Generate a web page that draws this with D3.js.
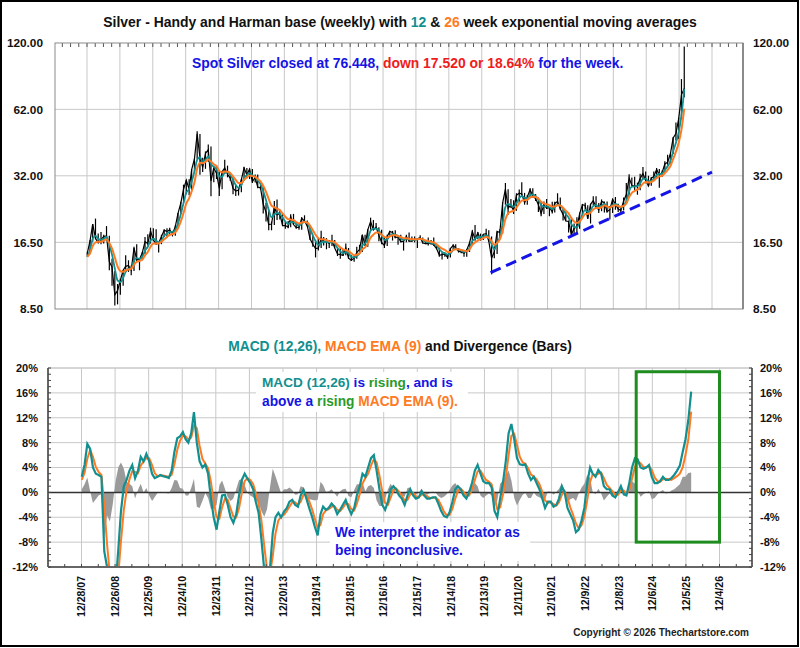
<!DOCTYPE html>
<html>
<head>
<meta charset="utf-8">
<script src="https://cdn.jsdelivr.net/npm/d3@7"></script>
<style>
  body { margin: 0; background: #fff; }
  svg { display: block; font-family: "Liberation Sans", Arial, sans-serif; font-weight: bold; }
  text { white-space: pre; }
</style>
</head>
<body>
<svg id="chart" width="800" height="648"></svg>
<script>
// x-axis tick labels (52 weeks apart)
const tickLabels = ["12/28/07", "12/26/08", "12/25/09", "12/24/10", "12/23/11", "12/21/12", "12/20/13",
  "12/19/14", "12/18/15", "12/16/16", "12/15/17", "12/14/18", "12/13/19", "12/11/20", "12/10/21",
  "12/9/22", "12/8/23", "12/6/24", "12/5/25", "12/4/26"];

const priceTicks = [8.5, 16.5, 32, 62, 120];
const macdTicks = [-12, -8, -4, 0, 4, 8, 12, 16, 20];

// month-end values, Dec 2007 .. Jan 2026
const closes = [14.8,
  16.8, 19.8, 17.2, 16.4, 16.9, 17.5, 17.6, 13.6, 12.9, 9.8, 10.2, 11.3,
  12.5, 13.0, 13.1, 12.5, 15.6, 13.9, 13.9, 14.9, 16.6, 16.3, 18.5, 16.9,
  16.2, 16.4, 17.5, 18.6, 18.4, 18.7, 18.0, 19.3, 22.0, 24.4, 28.0, 30.6,
  28.0, 34.0, 37.9, 48.6, 38.3, 34.8, 40.0, 41.5, 30.4, 34.6, 32.8, 28.2,
  33.3, 34.6, 32.5, 31.3, 28.2, 27.5, 27.8, 30.8, 34.6, 32.3, 34.2, 30.2,
  31.5, 28.6, 28.4, 24.1, 22.3, 19.7, 19.8, 23.6, 21.7, 21.9, 19.5, 19.5,
  19.2, 21.3, 19.7, 19.1, 19.2, 21.0, 20.4, 19.4, 17.1, 16.2, 15.5, 15.6,
  17.2, 16.6, 16.6, 16.3, 16.8, 15.6, 14.7, 14.6, 14.5, 15.6, 14.1, 13.8,
  14.1, 14.9, 15.4, 17.8, 16.0, 18.7, 20.3, 18.7, 19.2, 17.7, 16.5, 16.0,
  17.5, 18.4, 18.2, 17.3, 17.4, 16.6, 16.7, 17.5, 16.7, 16.7, 17.0, 17.1,
  17.3, 16.4, 16.3, 16.3, 16.4, 16.1, 15.5, 14.5, 14.6, 14.7, 14.2, 15.5,
  16.0, 15.6, 15.1, 15.0, 14.8, 15.3, 16.4, 18.4, 17.0, 18.1, 17.0, 17.9,
  18.0, 16.7, 14.1, 15.0, 18.4, 18.2, 24.4, 28.0, 23.2, 23.9, 22.6, 26.4,
  26.9, 26.7, 24.5, 25.9, 27.9, 26.1, 25.5, 24.0, 22.0, 24.0, 23.2, 23.3,
  22.4, 24.3, 24.8, 23.0, 21.8, 20.4, 20.3, 17.8, 19.0, 19.2, 21.9, 24.0,
  23.8, 20.9, 24.1, 25.0, 23.5, 22.8, 24.8, 24.5, 22.4, 22.9, 25.3, 24.1,
  23.0, 22.7, 24.9, 26.6, 31.3, 29.1, 28.9, 28.9, 31.2, 32.7, 30.6, 28.9,
  31.2, 31.8, 34.1, 32.3, 33.0, 36.0, 36.6, 39.9, 46.6, 48.7, 56.4, 71.6,
  76.4];

const highs = [14.9,
  16.9, 19.8, 20.9, 18.0, 18.3, 17.8, 19.4, 17.6, 14.0, 12.4, 10.9, 11.5,
  12.5, 14.5, 13.8, 13.1, 15.8, 16.2, 14.0, 15.0, 17.4, 17.9, 19.1, 19.0,
  18.8, 16.5, 17.8, 18.8, 19.0, 19.1, 18.5, 19.5, 22.1, 24.7, 29.3, 30.8,
  30.9, 34.1, 38.0, 49.8, 48.5, 38.3, 40.8, 43.7, 42.8, 35.4, 35.6, 33.3,
  33.6, 37.5, 35.4, 33.0, 31.3, 29.3, 28.4, 31.0, 34.9, 34.6, 34.4, 34.2,
  32.4, 32.4, 29.3, 28.6, 24.5, 22.6, 20.3, 24.9, 25.3, 22.9, 22.0, 20.3,
  20.4, 21.8, 21.9, 20.2, 19.7, 21.2, 21.6, 20.5, 19.6, 17.6, 16.8, 17.3,
  18.5, 17.4, 17.2, 16.9, 17.8, 16.9, 15.7, 15.7, 15.3, 16.3, 15.6, 14.5,
  14.5, 15.8, 16.1, 17.8, 17.8, 18.8, 21.1, 20.6, 20.0, 19.2, 18.7, 17.3,
  17.8, 18.5, 18.5, 18.6, 17.7, 17.8, 16.8, 17.8, 18.2, 17.5, 17.5, 17.1,
  17.7, 17.3, 16.8, 17.3, 16.9, 17.3, 16.2, 15.6, 14.9, 14.9, 14.7, 15.6,
  16.2, 16.2, 15.6, 15.3, 15.0, 15.4, 16.6, 18.6, 19.6, 18.3, 18.0, 17.9,
  18.9, 18.6, 17.5, 15.8, 18.4, 18.8, 24.6, 29.8, 28.0, 25.4, 25.1, 26.9,
  27.9, 30.0, 27.0, 26.4, 28.3, 28.3, 26.7, 25.8, 24.8, 24.8, 25.4, 23.4,
  24.7, 24.7, 26.9, 25.8, 22.9, 22.5, 20.5, 20.9, 19.9, 21.2, 22.2, 24.2,
  24.5, 23.9, 24.2, 26.1, 26.1, 24.4, 25.3, 24.8, 24.8, 23.7, 25.5, 25.9,
  24.2, 23.3, 25.8, 29.8, 32.5, 31.5, 31.7, 29.9, 32.7, 34.9, 33.4, 32.0,
  31.6, 33.4, 34.6, 34.2, 33.7, 37.0, 39.5, 40.0, 47.0, 54.4, 57.0, 83.8,
  116.0];

const lows = [14.3,
  14.8, 16.6, 17.0, 16.4, 16.2, 16.3, 17.0, 12.5, 10.7, 8.8, 8.9, 9.8,
  10.7, 12.3, 12.3, 11.9, 12.4, 13.7, 12.5, 13.8, 14.7, 16.0, 16.3, 16.8,
  16.3, 14.9, 16.2, 17.4, 17.3, 17.9, 17.5, 17.6, 19.3, 22.0, 24.4, 26.6,
  26.4, 27.5, 33.2, 37.6, 32.3, 33.2, 34.3, 36.8, 26.1, 30.0, 31.0, 26.2,
  28.0, 32.6, 31.5, 30.5, 26.6, 26.2, 26.3, 27.2, 30.5, 31.2, 31.0, 29.8,
  29.9, 28.3, 27.9, 22.0, 20.3, 18.6, 18.6, 19.6, 20.6, 20.7, 19.4, 18.9,
  19.0, 19.2, 19.7, 18.9, 18.7, 18.7, 20.4, 19.3, 16.9, 15.8, 14.2, 15.2,
  15.6, 16.0, 15.4, 15.6, 15.9, 15.6, 14.4, 14.0, 14.4, 14.5, 14.0, 13.7,
  13.6, 14.0, 14.8, 15.0, 15.9, 15.8, 18.7, 18.6, 18.8, 16.7, 16.2, 15.6,
  15.9, 17.4, 16.8, 17.2, 16.1, 16.5, 15.2, 16.5, 16.6, 16.6, 16.5, 15.6,
  16.9, 16.3, 16.2, 16.0, 16.1, 15.9, 15.4, 14.3, 13.9, 14.3, 14.0, 14.2,
  15.4, 15.6, 14.9, 14.8, 14.3, 14.3, 15.0, 16.2, 16.8, 17.0, 16.8, 16.9,
  17.4, 16.6, 12.0, 14.1, 14.7, 17.2, 18.0, 24.0, 21.7, 23.2, 21.9, 22.6,
  24.2, 25.9, 24.0, 24.0, 25.6, 25.8, 24.9, 22.3, 21.4, 21.9, 23.0, 21.4,
  22.0, 22.2, 24.0, 22.8, 20.5, 20.4, 18.2, 17.6, 17.6, 18.1, 18.9, 21.8,
  23.0, 20.8, 19.9, 23.9, 23.2, 22.1, 22.5, 22.2, 22.2, 20.7, 22.1, 22.8,
  22.3, 22.2, 22.7, 25.0, 26.0, 28.8, 27.6, 26.5, 27.7, 31.0, 29.7, 28.8,
  29.0, 31.0, 31.0, 28.4, 31.6, 32.9, 35.7, 36.2, 39.8, 45.5, 46.0, 56.5,
  70.0];

const ema12 = [14.3,
  15.3, 17.1, 17.6, 17.1, 16.9, 17.1, 17.4, 16.1, 14.6, 12.7, 11.3, 11.1,
  11.6, 12.3, 12.7, 12.7, 13.7, 14.1, 14.0, 14.3, 15.2, 15.8, 16.8, 17.1,
  16.8, 16.5, 16.8, 17.6, 18.0, 18.3, 18.3, 18.6, 19.9, 21.8, 24.4, 27.1,
  28.0, 30.1, 33.4, 37.5, 38.5, 36.8, 37.5, 38.8, 36.0, 35.0, 34.2, 31.9,
  31.7, 33.0, 33.1, 32.4, 30.8, 29.2, 28.4, 29.1, 31.3, 32.2, 32.9, 32.2,
  31.6, 30.6, 29.5, 27.5, 25.1, 22.8, 21.2, 21.8, 22.1, 21.9, 21.1, 20.3,
  19.8, 20.2, 20.2, 19.8, 19.5, 19.9, 20.3, 20.0, 18.9, 17.7, 16.7, 16.1,
  16.4, 16.6, 16.6, 16.5, 16.6, 16.3, 15.6, 15.1, 14.8, 15.0, 14.8, 14.3,
  14.2, 14.4, 14.8, 16.0, 16.3, 17.1, 18.5, 18.9, 18.9, 18.6, 17.7, 16.9,
  17.0, 17.6, 17.9, 17.8, 17.6, 17.2, 16.9, 17.1, 17.0, 16.9, 16.9, 17.0,
  17.1, 16.9, 16.6, 16.5, 16.4, 16.3, 16.0, 15.4, 15.0, 14.8, 14.6, 14.8,
  15.3, 15.5, 15.4, 15.2, 15.0, 15.1, 15.6, 16.7, 17.1, 17.4, 17.4, 17.5,
  17.7, 17.4, 16.2, 15.4, 16.4, 17.3, 19.9, 23.5, 24.2, 23.9, 23.5, 24.3,
  25.6, 26.2, 25.7, 25.6, 26.4, 26.6, 26.1, 25.3, 23.9, 23.6, 23.6, 23.4,
  23.0, 23.4, 24.0, 23.8, 23.0, 21.9, 21.1, 19.8, 19.2, 19.2, 20.1, 21.8,
  22.8, 22.3, 22.7, 23.7, 23.9, 23.4, 23.8, 24.2, 23.6, 23.2, 23.9, 24.2,
  23.8, 23.3, 23.7, 24.9, 27.4, 28.7, 28.8, 28.9, 29.7, 31.0, 31.1, 30.3,
  30.4, 31.0, 32.2, 32.6, 32.7, 33.9, 35.2, 37.0, 40.8, 44.5, 49.3, 58.2,
  76.0];

const ema26 = [14.3,
  14.8, 15.9, 16.5, 16.6, 16.6, 16.8, 17.0, 16.4, 15.5, 14.2, 13.0, 12.4,
  12.3, 12.5, 12.6, 12.7, 13.2, 13.6, 13.7, 13.9, 14.5, 15.0, 15.8, 16.3,
  16.3, 16.3, 16.6, 17.0, 17.4, 17.8, 17.9, 18.2, 19.0, 20.3, 22.1, 24.3,
  25.6, 27.4, 30.0, 34.3, 36.4, 36.3, 36.8, 37.6, 36.9, 35.9, 35.2, 33.6,
  33.1, 33.4, 33.3, 32.9, 31.8, 30.7, 29.8, 29.8, 30.8, 31.5, 32.1, 31.9,
  31.7, 31.1, 30.3, 29.0, 27.3, 25.4, 23.8, 23.4, 23.1, 22.7, 22.0, 21.3,
  20.8, 20.7, 20.6, 20.2, 19.9, 20.1, 20.2, 20.1, 19.5, 18.6, 17.8, 17.2,
  17.0, 17.0, 16.9, 16.7, 16.7, 16.5, 16.1, 15.7, 15.4, 15.3, 15.1, 14.8,
  14.5, 14.6, 14.8, 15.4, 15.7, 16.3, 17.3, 17.8, 18.2, 18.2, 17.8, 17.4,
  17.3, 17.5, 17.7, 17.7, 17.6, 17.4, 17.2, 17.2, 17.1, 17.0, 17.0, 17.0,
  17.1, 17.0, 16.8, 16.7, 16.6, 16.5, 16.2, 15.8, 15.5, 15.3, 15.0, 15.0,
  15.3, 15.4, 15.4, 15.3, 15.2, 15.1, 15.4, 16.1, 16.5, 16.8, 17.0, 17.2,
  17.4, 17.3, 16.7, 16.1, 16.4, 17.0, 18.5, 20.8, 22.0, 22.4, 22.6, 23.3,
  24.3, 25.0, 25.1, 25.2, 25.8, 26.0, 25.9, 25.5, 24.7, 24.3, 24.1, 23.9,
  23.5, 23.6, 23.9, 23.8, 23.3, 22.6, 22.0, 21.0, 20.3, 20.0, 20.3, 21.1,
  21.9, 21.9, 22.2, 22.9, 23.2, 23.2, 23.4, 23.8, 23.6, 23.3, 23.7, 23.9,
  23.7, 23.5, 23.7, 24.3, 25.9, 27.0, 27.5, 27.9, 28.6, 29.6, 30.1, 29.9,
  30.1, 30.5, 31.3, 31.8, 32.0, 32.9, 33.9, 35.3, 37.8, 40.7, 44.4, 50.7,
  62.5];

// MACD (12,26) in %, its 9-week EMA and the divergence
const macd = [2.5,
  4.5, 7.8, 7.0, 4.0, 3.0, 2.8, 2.5, -9.5, -12.0, -18.0, -19.0, -15.0,
  -9.0, -3.0, 1.0, 2.0, 3.5, 4.4, 2.3, 3.5, 5.7, 5.0, 6.2, 5.0,
  3.0, 2.3, 2.5, 2.8, 2.6, 2.5, 2.3, 3.5, 6.5, 8.7, 9.0, 9.7,
  8.5, 8.0, 9.5, 12.9, 8.0, 5.0, 4.0, 4.5, 3.0, -1.0, -4.0, -6.0,
  -3.0, -0.5, -0.4, -2.0, -4.0, -4.9, -3.5, -0.5, 2.0, 3.0, 2.2, 1.5,
  0.5, -1.5, -3.3, -7.5, -12.5, -15.0, -12.5, -6.5, -4.0, -3.3, -4.0, -3.1,
  -2.5, -1.5, -1.2, -2.0, -2.3, -0.5, 0.4, -1.0, -2.5, -3.9, -5.5, -6.9,
  -3.5, -2.3, -2.8, -2.5, -1.8, -2.3, -3.5, -2.8, -2.0, -1.2, -2.5, -3.5,
  -2.5, -0.5, 1.0, 3.0, 2.5, 4.0, 5.5, 6.0, 3.5, 0.5, -2.0, -2.8,
  -1.5, 0.5, 1.0, 0.5, -0.5, -1.0, -2.0, -0.5, 0.5, -0.5, -1.0, -0.8,
  0.2, -0.5, -1.0, -1.0, -0.8, -0.8, -1.8, -3.0, -3.8, -4.0, -3.2, -1.5,
  0.5, 1.0, 0.5, -0.5, -1.0, 0.0, 1.5, 3.5, 4.4, 3.0, 1.8, 1.5,
  1.5, 0.8, -3.0, -4.0, -1.0, 1.5, 5.0, 9.5, 11.0, 8.5, 5.5, 4.5,
  4.4, 4.5, 3.0, 2.0, 2.5, 1.5, 0.5, -1.0, -2.5, -1.5, -1.5, -2.3,
  -2.0, -1.0, 1.0, 0.0, -2.5, -3.5, -4.5, -6.4, -6.0, -4.5, -2.5, 1.5,
  4.0, 3.0, 2.5, 3.6, 3.0, 1.0, 0.5, 0.5, -0.5, -0.8, 0.0, 1.0,
  -0.3, -0.5, 1.5, 4.0, 5.5, 5.3, 4.0, 3.8, 4.0, 4.4, 2.5, 1.5,
  1.5, 1.8, 2.5, 2.0, 2.0, 2.3, 2.8, 3.5, 4.3, 6.5, 8.5, 11.6,
  16.2];

const signal = [2.0,
  3.2, 5.4, 6.8, 5.7, 4.1, 3.3, 2.8, -2.2, -8.3, -13.3, -17.0, -16.8,
  -13.1, -7.8, -2.8, 0.3, 2.1, 3.4, 3.3, 3.1, 4.3, 5.0, 5.5, 5.5,
  4.4, 3.1, 2.6, 2.7, 2.7, 2.6, 2.5, 2.8, 4.5, 6.8, 8.3, 9.1,
  9.0, 8.5, 8.8, 10.7, 10.3, 7.5, 5.4, 4.6, 3.9, 1.7, -1.4, -4.0,
  -4.2, -2.4, -1.0, -1.2, -2.6, -3.9, -4.0, -2.5, -0.1, 1.8, 2.3, 2.0,
  1.3, -0.1, -1.8, -4.5, -8.6, -12.3, -13.2, -10.3, -6.6, -4.5, -3.9, -3.6,
  -3.0, -2.3, -1.6, -1.6, -2.0, -1.5, -0.4, -0.4, -1.4, -2.7, -4.2, -5.7,
  -5.2, -3.5, -2.9, -2.7, -2.3, -2.2, -2.8, -3.0, -2.5, -1.8, -1.9, -2.7,
  -2.9, -1.8, -0.3, 1.4, 2.3, 3.0, 4.3, 5.3, 4.8, 2.7, 0.2, -1.7,
  -2.0, -0.9, 0.3, 0.6, 0.1, -0.5, -1.3, -1.2, -0.3, -0.1, -0.6, -0.8,
  -0.4, -0.3, -0.6, -0.9, -0.9, -0.8, -1.2, -2.1, -3.1, -3.7, -3.6, -2.6,
  -1.0, 0.2, 0.6, 0.1, -0.5, -0.5, 0.5, 2.0, 3.4, 3.5, 2.7, 2.0,
  1.7, 1.3, -0.6, -2.7, -2.4, -0.4, 2.3, 6.0, 9.1, 9.4, 7.6, 5.7,
  4.8, 4.6, 3.9, 2.9, 2.5, 2.1, 1.3, 0.1, -1.3, -1.7, -1.6, -1.9,
  -2.1, -1.6, -0.4, 0.2, -0.9, -2.4, -3.6, -5.0, -5.8, -5.3, -3.9, -1.3,
  1.7, 2.9, 2.8, 3.0, 3.2, 2.3, 1.2, 0.7, 0.2, -0.4, -0.4, 0.3,
  0.3, -0.2, 0.4, 2.2, 4.1, 5.0, 4.7, 4.1, 4.0, 4.2, 3.6, 2.4,
  1.8, 1.7, 2.1, 2.2, 2.1, 2.0, 2.3, 2.6, 3.0, 4.0, 6.0, 8.5,
  13.0];

const divergence = [0.5,
  1.3, 2.4, 0.2, -1.7, -1.1, -0.5, -0.3, -7.3, -3.7, -4.7, -2.0, 1.8,
  4.1, 4.8, 3.8, 1.7, 1.4, 1.0, -1.0, 0.4, 1.4, 0.0, 0.7, -0.5,
  -1.4, -0.8, -0.1, 0.1, -0.1, -0.1, -0.2, 0.7, 2.0, 1.9, 0.7, 0.6,
  -0.5, -0.5, 0.7, 2.2, -2.3, -2.5, -1.4, -0.1, -0.9, -2.7, -2.6, -2.0,
  1.2, 1.9, 0.6, -0.8, -1.4, -1.0, 0.5, 2.0, 2.1, 1.2, -0.1, -0.5,
  -0.8, -1.4, -1.5, -3.0, -3.9, -2.7, 0.7, 3.8, 2.6, 1.2, -0.1, 0.5,
  0.5, 0.8, 0.4, -0.4, -0.3, 1.0, 0.8, -0.6, -1.1, -1.2, -1.3, -1.2,
  1.7, 1.2, 0.1, 0.2, 0.5, -0.1, -0.7, 0.2, 0.5, 0.6, -0.6, -0.8,
  0.4, 1.3, 1.3, 1.6, 0.2, 1.0, 1.2, 0.7, -1.3, -2.2, -2.2, -1.1,
  0.5, 1.4, 0.7, -0.1, -0.6, -0.5, -0.7, 0.7, 0.8, -0.4, -0.4, 0.0,
  0.6, -0.2, -0.4, -0.1, 0.1, 0.0, -0.6, -0.9, -0.7, -0.3, 0.4, 1.1,
  1.5, 0.8, -0.1, -0.6, -0.5, 0.5, 1.0, 1.5, 1.0, -0.5, -0.9, -0.5,
  -0.2, -0.5, -2.4, -1.3, 1.4, 1.9, 2.7, 3.5, 1.9, -0.9, -2.1, -1.2,
  -0.4, -0.1, -0.9, -0.9, 0.0, -0.6, -0.8, -1.1, -1.2, 0.2, 0.1, -0.4,
  0.1, 0.6, 1.4, -0.2, -1.6, -1.1, -0.9, -1.4, -0.2, 0.8, 1.4, 2.8,
  2.3, 0.1, -0.3, 0.6, -0.2, -1.3, -0.7, -0.2, -0.7, -0.4, 0.4, 0.7,
  -0.6, -0.3, 1.1, 1.8, 1.4, 0.3, -0.7, -0.3, 0.0, 0.2, -1.1, -0.9,
  -0.3, 0.1, 0.4, -0.2, -0.1, 0.3, 0.5, 0.9, 1.3, 2.5, 2.5, 3.1,
  3.2];

// dashed support line and the highlight box
const trendDates = ["3/20/20", "12/4/26"];
const trendValues = [12.2, 33.2];
const boxDates = ["6/14/24", "12/4/26"];
const boxRange = [-8, 19.4];

const teal = "#128f8f", orange = "#ff7a22", blue = "#1414e6", red = "#ee1c1c", green = "#2a9a2a";
const gridColor = "#c8c8c8";

const svg = d3.select("#chart");
const parseDate = d3.timeParse("%m/%d/%y");
const tickDates = tickLabels.map(parseDate);
const monthEnd = i => d3.timeDay.offset(d3.timeMonth.offset(new Date(2008, 0, 1), i), -1);
const dates = closes.map((d, i) => monthEnd(i));

const pTop = { l: 55, r: 743, t: 43, b: 309 };
const pBot = { l: 48, r: 752, t: 368, b: 567 };

const xTop = d3.scaleTime().domain([tickDates[0], tickDates[tickDates.length - 1]]).range([87, 712]);
const xBot = d3.scaleTime().domain(xTop.domain()).range([81.5, 719.5]);
const yPrice = d3.scaleLog().domain([8.5, 120]).range([pTop.b, pTop.t]);
const yMacd = d3.scaleLinear().domain([-12, 20]).range([pBot.b, pBot.t]);

// shrink or grow a text so it spans the width it has in the original
const fit = (text, width) => {
  const w = text.node().getComputedTextLength();
  text.attr("font-size", +text.attr("font-size") * width / w);
  return text;
}

const richText = (g, x, y, size, parts) => {
  const t = g.append("text").attr("x", x).attr("y", y).attr("font-size", size);
  parts.forEach(([s, c]) => t.append("tspan").attr("fill", c).text(s));
  return t;
}

const defs = svg.append("defs");
defs.append("clipPath").attr("id", "clipTop").append("rect")
  .attr("x", pTop.l).attr("y", pTop.t).attr("width", pTop.r - pTop.l).attr("height", pTop.b - pTop.t);
defs.append("clipPath").attr("id", "clipBot").append("rect")
  .attr("x", pBot.l).attr("y", pBot.t).attr("width", pBot.r - pBot.l).attr("height", pBot.b - pBot.t);

svg.append("rect").attr("width", 800).attr("height", 648).attr("fill", "#fff");

// ---------- price panel ----------
fit(richText(svg, 400, 27, 13, [
  ["Silver - Handy and Harman base (weekly) with ", "#111"], ["12", teal], [" & ", "#111"],
  ["26", orange], [" week exponential moving averages", "#111"]
]).attr("text-anchor", "middle"), 594);

const gTop = svg.append("g");

gTop.selectAll(".vgrid").data(tickDates).join("line")
  .attr("x1", d => xTop(d)).attr("x2", d => xTop(d))
  .attr("y1", pTop.t).attr("y2", pTop.b)
  .attr("stroke", gridColor);

gTop.selectAll(".hgrid").data(priceTicks.slice(1, -1)).join("line")
  .attr("x1", pTop.l).attr("x2", pTop.r)
  .attr("y1", d => yPrice(d)).attr("y2", d => yPrice(d))
  .attr("stroke", gridColor);

const quarterTicks = d3.range(-4, 80).map(k => d3.timeDay.offset(tickDates[0], 91 * k))
  .filter(d => xTop(d) > pTop.l && xTop(d) < pTop.r);
gTop.selectAll(".qtick").data(quarterTicks).join("line")
  .attr("x1", d => xTop(d)).attr("x2", d => xTop(d))
  .attr("y1", pTop.t).attr("y2", pTop.t + 4)
  .attr("stroke", "#555");

gTop.append("rect")
  .attr("x", pTop.l).attr("y", pTop.t).attr("width", pTop.r - pTop.l).attr("height", pTop.b - pTop.t)
  .attr("fill", "none").attr("stroke", "#8a8a8a");
gTop.append("line").attr("x1", pTop.r).attr("x2", pTop.r).attr("y1", pTop.t).attr("y2", pTop.b)
  .attr("stroke", "#777").attr("stroke-width", 1.5);

gTop.selectAll(".ylabL").data(priceTicks).join("text")
  .attr("x", 43).attr("y", d => yPrice(d)).attr("dy", "0.36em")
  .attr("text-anchor", "end").attr("font-size", 11.8).attr("fill", "#111")
  .text(d => d.toFixed(2));
gTop.selectAll(".ylabR").data(priceTicks).join("text")
  .attr("x", 753).attr("y", d => yPrice(d)).attr("dy", "0.36em")
  .attr("font-size", 11.8).attr("fill", "#111")
  .text(d => d.toFixed(2));

const gPrice = svg.append("g").attr("clip-path", "url(#clipTop)");

gPrice.selectAll(".bar").data(closes).join("line")
  .attr("x1", (d, i) => xTop(dates[i])).attr("x2", (d, i) => xTop(dates[i]))
  .attr("y1", (d, i) => yPrice(lows[i])).attr("y2", (d, i) => yPrice(highs[i]))
  .attr("stroke", "#000").attr("stroke-width", 1.2);

const priceLine = d3.line().x((d, i) => xTop(dates[i])).y(d => yPrice(d));

gPrice.append("path").attr("d", priceLine(closes))
  .attr("fill", "none").attr("stroke", "#000").attr("stroke-width", 1.2);
gPrice.append("path").attr("d", priceLine.curve(d3.curveMonotoneX)(ema12))
  .attr("fill", "none").attr("stroke", teal).attr("stroke-width", 1.8);
gPrice.append("path").attr("d", priceLine.curve(d3.curveMonotoneX)(ema26))
  .attr("fill", "none").attr("stroke", orange).attr("stroke-width", 2);

svg.append("line")
  .attr("x1", xTop(parseDate(trendDates[0]))).attr("y1", yPrice(trendValues[0]))
  .attr("x2", xTop(parseDate(trendDates[1]))).attr("y2", yPrice(trendValues[1]))
  .attr("stroke", blue).attr("stroke-width", 3).attr("stroke-dasharray", "11,6");

fit(richText(svg, 192, 68, 13.5, [
  ["Spot Silver closed at 76.448, ", blue], ["down 17.520 or 18.64%", red], [" for the week.", blue]
]), 432);

// ---------- MACD panel ----------
fit(richText(svg, 400, 351, 13.5, [
  ["MACD (12,26), ", teal], ["MACD EMA (9)", orange], [" and Divergence (Bars)", "#111"]
]).attr("text-anchor", "middle"), 344);

const gBot = svg.append("g");

gBot.selectAll(".vgrid").data(tickDates).join("line")
  .attr("x1", d => xBot(d)).attr("x2", d => xBot(d))
  .attr("y1", pBot.t).attr("y2", pBot.b)
  .attr("stroke", gridColor);

gBot.selectAll(".hgrid").data(macdTicks.filter(d => d !== 0 && d !== -12)).join("line")
  .attr("x1", pBot.l).attr("x2", pBot.r)
  .attr("y1", d => yMacd(d)).attr("y2", d => yMacd(d))
  .attr("stroke", gridColor);

const gBoxes = svg.append("g");

const gMacd = svg.append("g").attr("clip-path", "url(#clipBot)");

gMacd.append("path")
  .attr("d", d3.area().x((d, i) => xBot(dates[i])).y0(yMacd(0)).y1(d => yMacd(d))(divergence))
  .attr("fill", "#9a9a9a");

gMacd.append("line").attr("x1", pBot.l).attr("x2", pBot.r)
  .attr("y1", yMacd(0)).attr("y2", yMacd(0))
  .attr("stroke", "#333").attr("stroke-width", 1.5);

const macdLine = d3.line().x((d, i) => xBot(dates[i])).y(d => yMacd(d));
gMacd.append("path").attr("d", macdLine(signal))
  .attr("fill", "none").attr("stroke", orange).attr("stroke-width", 2);
gMacd.append("path").attr("d", macdLine(macd))
  .attr("fill", "none").attr("stroke", teal).attr("stroke-width", 2.2);

// frame and minor ticks
gBot.append("line").attr("x1", pBot.l).attr("x2", pBot.r).attr("y1", pBot.t).attr("y2", pBot.t)
  .attr("stroke", gridColor);
[pBot.l, pBot.r].forEach(x => {
  svg.append("line").attr("x1", x).attr("x2", x).attr("y1", pBot.t).attr("y2", pBot.b)
    .attr("stroke", "#666").attr("stroke-width", 2);
});
svg.append("line").attr("x1", pBot.l).attr("x2", pBot.r).attr("y1", pBot.b).attr("y2", pBot.b)
  .attr("stroke", "#666").attr("stroke-width", 2);

const minorY = d3.range(-12, 21);
svg.selectAll(".ytickL").data(minorY).join("line")
  .attr("x1", pBot.l).attr("x2", pBot.l + 3)
  .attr("y1", d => yMacd(d)).attr("y2", d => yMacd(d))
  .attr("stroke", "#444");
svg.selectAll(".ytickR").data(minorY).join("line")
  .attr("x1", pBot.r - 3).attr("x2", pBot.r)
  .attr("y1", d => yMacd(d)).attr("y2", d => yMacd(d))
  .attr("stroke", "#444");

const halfTicks = d3.range(-4, 40).map(k => d3.timeDay.offset(tickDates[0], 182 * k))
  .filter(d => xBot(d) > pBot.l && xBot(d) < pBot.r);
svg.selectAll(".htick").data(halfTicks).join("line")
  .attr("x1", d => xBot(d)).attr("x2", d => xBot(d))
  .attr("y1", pBot.b - 3).attr("y2", pBot.b)
  .attr("stroke", "#444");

// highlight box
svg.append("rect")
  .attr("x", xBot(parseDate(boxDates[0]))).attr("y", yMacd(boxRange[1]))
  .attr("width", xBot(parseDate(boxDates[1])) - xBot(parseDate(boxDates[0])))
  .attr("height", yMacd(boxRange[0]) - yMacd(boxRange[1]))
  .attr("fill", "none").attr("stroke", "#1e8c1e").attr("stroke-width", 3);

// annotations with white backing
const note1 = svg.append("g");
fit(richText(note1, 262, 387, 13.5, [
  ["MACD (12,26)", teal], [" is ", blue], ["rising", green], [", and is", blue]
]), 191);
fit(richText(note1, 262, 406, 13.5, [
  ["above a ", blue], ["rising", green], [" MACD EMA (9).", orange]
]), 196);

const note2 = svg.append("g");
fit(richText(note2, 335, 537, 13.5, [["We interpret the indicator as", blue]]), 185);
fit(richText(note2, 335, 555, 13.5, [["being inconclusive.", blue]]), 128);

[[note1, 6, 10], [note2, 5, 10]].forEach(([g, padL, padR]) => {
  const b = g.node().getBBox();
  gBoxes.append("rect")
    .attr("x", b.x - padL).attr("y", b.y - 3)
    .attr("width", b.width + padL + padR).attr("height", b.height + 6)
    .attr("fill", "#fff");
});

// axis labels
svg.selectAll(".mlabL").data(macdTicks).join("text")
  .attr("x", 38).attr("y", d => yMacd(d)).attr("dy", "0.36em")
  .attr("text-anchor", "end").attr("font-size", 11).attr("fill", "#111")
  .text(d => d + "%");
svg.selectAll(".mlabR").data(macdTicks).join("text")
  .attr("x", 760).attr("y", d => yMacd(d)).attr("dy", "0.36em")
  .attr("font-size", 11).attr("fill", "#111")
  .text(d => d + "%");

svg.selectAll(".xlab").data(tickDates).join("text")
  .attr("transform", d => `translate(${xBot(d)},576) rotate(-90)`)
  .attr("dy", "0.36em").attr("text-anchor", "end")
  .attr("font-size", 10.5).attr("fill", "#111")
  .text((d, i) => tickLabels[i]);

fit(svg.append("text").attr("x", 749).attr("y", 636).attr("text-anchor", "end")
  .attr("font-size", 10.5).attr("fill", "#222")
  .text("Copyright \u00a9 2026 Thechartstore.com"), 176);

// outer frame
svg.append("rect").attr("x", 1).attr("y", 1).attr("width", 797).attr("height", 645)
  .attr("fill", "none").attr("stroke", "#000").attr("stroke-width", 2);
</script>
</body>
</html>
